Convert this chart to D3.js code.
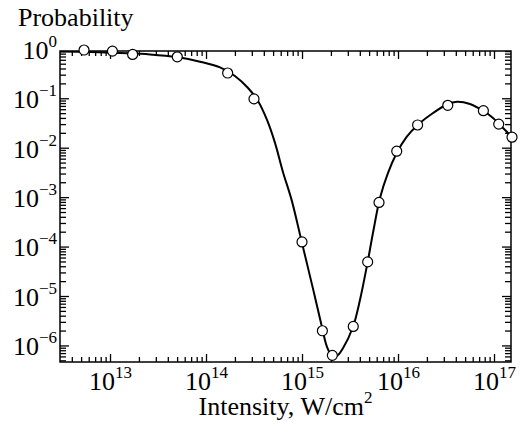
<!DOCTYPE html>
<html lang="en">
<head>
<meta charset="utf-8">
<title>Probability vs intensity</title>
<script src="https://d3js.org/d3.v7.min.js"></script>
<style>
body { margin: 0; background: #fff; }
text { font-family: "Liberation Serif", "Times New Roman", serif; fill: #000; }
</style>
</head>
<body>
<div id="chart"></div>
<script>
// measured points (open circles)
var pointI = [5.36e12, 1.06e13, 1.72e13, 5.02e13, 1.68e14, 3.16e14, 1.0e15, 1.63e15, 2.07e15,
              3.42e15, 4.83e15, 6.34e15, 9.7e15, 1.6e16, 3.3e16, 7.75e16, 1.12e17, 1.54e17];
var pointP = [0.946, 0.90, 0.77, 0.69, 0.324, 0.097, 1.24e-4, 1.98e-6, 6.3e-7,
              2.42e-6, 4.9e-5, 7.8e-4, 8.5e-3, 0.0288, 0.072, 0.056, 0.030, 0.0163];

// smooth curve
var fitI = [3.0e12, 6.2e12, 1.27e13, 2.61e13, 4.99e13, 8.66e13, 1.4e14, 2.0e14, 2.74e14, 3.48e14,
            4.32e14, 5.23e14, 6.34e14, 7.8e14, 9.93e14, 1.31e15, 1.62e15, 1.82e15, 2.05e15, 2.32e15,
            2.67e15, 3.4e15, 4.02e15, 4.83e15, 5.49e15, 6.5e15, 7.87e15, 9.7e15, 1.23e16, 1.6e16,
            2.32e16, 3.24e16, 4.12e16, 5.62e16, 7.67e16, 9.77e16, 1.13e17, 1.36e17, 1.5e17];
var fitP = [0.88, 0.86, 0.82, 0.77, 0.68, 0.55, 0.42, 0.282, 0.161, 0.088,
            0.0364, 0.0125, 3.2e-3, 8.7e-4, 1.245e-4, 1.33e-5, 2.28e-6, 9.4e-7, 6.2e-7, 6.2e-7,
            8.8e-7, 2.39e-6, 8.4e-6, 4.9e-5, 1.9e-4, 9.7e-4, 3.09e-3, 7.8e-3, 0.0165, 0.0288,
            0.0504, 0.0749, 0.0853, 0.0766, 0.056, 0.040, 0.030, 0.021, 0.0165];

var xDecades = [13, 14, 15, 16, 17];
var yDecades = [0, -1, -2, -3, -4, -5, -6];

var w = 520, h = 426;
var pL = 60, pR = 511, pT = 51, pB = 362;

var x = d3.scaleLog()
  .domain([Math.pow(10, 12.479), Math.pow(10, 17.177)])
  .range([pL, pR]);
var y = d3.scaleLog()
  .domain([Math.pow(10, -6.335), Math.pow(10, -0.044)])
  .range([pB, pT]);

var svg = d3.select("#chart").append("svg")
  .attr("width", w)
  .attr("height", h);

function isMajor(v) {
  var l = Math.log10(v);
  return Math.abs(l - Math.round(l)) < 1e-6;
}
var xMajor = x.ticks().filter(isMajor);
var xMinor = x.ticks().filter(function (d) { return !isMajor(d); });
var yMajor = y.ticks().filter(isMajor);
var yMinor = y.ticks().filter(function (d) { return !isMajor(d); });

function tickAxis(g, axis, vals, size) {
  g.call(axis.tickValues(vals).tickSizeInner(-size).tickSizeOuter(0).tickFormat(""));
  g.select(".domain").remove();
  g.selectAll("line").attr("stroke", "#000").attr("stroke-width", 1.3);
}

// ticks on all four sides, pointing in
[[d3.axisBottom, "translate(0," + pB + ")"],
 [d3.axisTop, "translate(0," + pT + ")"]].forEach(function (a) {
  svg.append("g").attr("transform", a[1]).call(tickAxis, a[0](x), xMajor, 8);
  svg.append("g").attr("transform", a[1]).call(tickAxis, a[0](x), xMinor, 5);
});
[[d3.axisLeft, "translate(" + pL + ",0)"],
 [d3.axisRight, "translate(" + pR + ",0)"]].forEach(function (a) {
  svg.append("g").attr("transform", a[1]).call(tickAxis, a[0](y), yMajor, 9);
  svg.append("g").attr("transform", a[1]).call(tickAxis, a[0](y), yMinor, 6);
});

// frame
svg.append("rect")
  .attr("x", pL).attr("y", pT)
  .attr("width", pR - pL).attr("height", pB - pT)
  .attr("fill", "none").attr("stroke", "#000").attr("stroke-width", 1.5);

function powLabel(sel) {
  sel.each(function (d) {
    var t = d3.select(this);
    var e = Math.round(Math.log10(d));
    t.text(null);
    t.append("tspan").text("10");
    t.append("tspan").attr("dy", -12).style("font-size", "17px")
      .text(String(e).replace("-", "\u2212"));
  });
}

// tick labels
var xLab = svg.append("g")
  .attr("transform", "translate(0," + pB + ")")
  .call(d3.axisBottom(x).tickValues(xDecades.map(function (e) { return Math.pow(10, e); }))
    .tickSize(0).tickPadding(10));
xLab.attr("font-family", null);
xLab.select(".domain").remove();
xLab.selectAll("text")
  .style("font-size", "26px")
  .attr("dy", "0.71em")
  .call(powLabel);

var yLab = svg.append("g")
  .attr("transform", "translate(" + pL + ",0)")
  .call(d3.axisLeft(y).tickValues(yDecades.map(function (e) { return Math.pow(10, e); }))
    .tickSize(0).tickPadding(3));
yLab.attr("font-family", null);
yLab.select(".domain").remove();
yLab.selectAll("text")
  .style("font-size", "26px")
  .attr("dy", "0.36em")
  .call(powLabel);

// axis titles
svg.append("text")
  .attr("x", 18).attr("y", 26)
  .style("font-size", "26px")
  .text("Probability");

var xt = svg.append("text")
  .attr("x", (pL + pR) / 2).attr("y", 415)
  .attr("text-anchor", "middle")
  .style("font-size", "26px");
xt.append("tspan").text("Intensity, W/cm");
xt.append("tspan").attr("dy", -12).style("font-size", "17px").text("2");

// curve
svg.append("clipPath").attr("id", "clip")
  .append("rect").attr("x", pL).attr("y", pT)
  .attr("width", pR - pL).attr("height", pB - pT);

var fit = fitI.map(function (v, i) { return [v, fitP[i]]; });
svg.append("path")
  .datum(fit)
  .attr("clip-path", "url(#clip)")
  .attr("fill", "none")
  .attr("stroke", "#000")
  .attr("stroke-width", 2)
  .attr("d", d3.line()
    .x(function (d) { return x(d[0]); })
    .y(function (d) { return y(d[1]); })
    .curve(d3.curveCatmullRom));

// points
svg.selectAll("circle.pt")
  .data(pointI.map(function (v, i) { return [v, pointP[i]]; }))
  .enter()
  .append("circle")
  .attr("class", "pt")
  .attr("cx", function (d) { return x(d[0]); })
  .attr("cy", function (d) { return y(d[1]); })
  .attr("r", 5)
  .attr("fill", "#fff")
  .attr("stroke", "#000")
  .attr("stroke-width", 1.2);
</script>
</body>
</html>
